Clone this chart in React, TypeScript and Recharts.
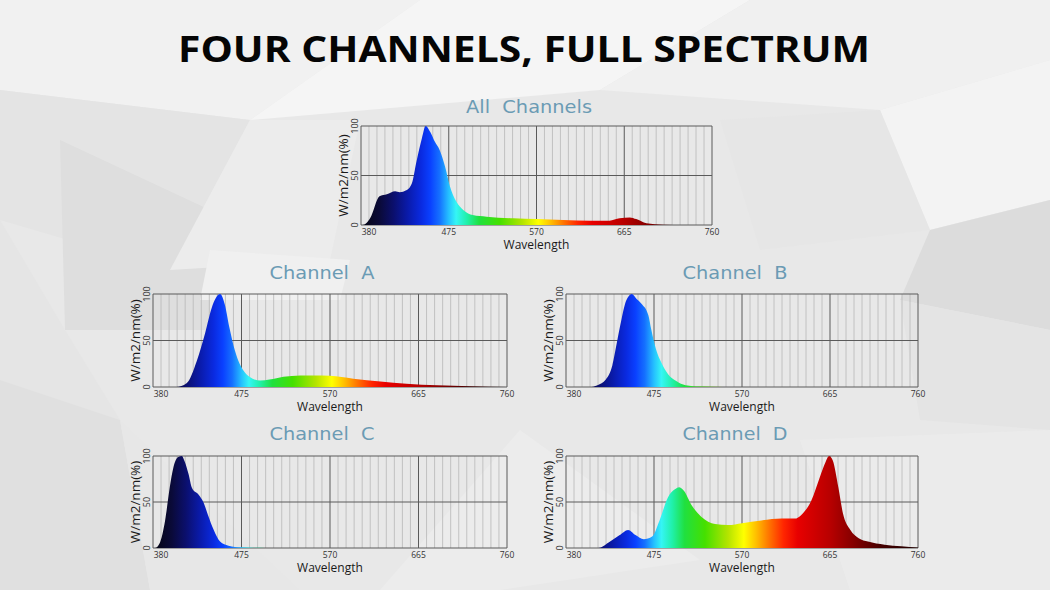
import React from 'react';
import { AreaChart, Area, XAxis, YAxis, CartesianGrid } from 'recharts';

// ---------- data ----------
const X_TICKS = [380, 475, 570, 665, 760];
const Y_TICKS = [0, 50, 100];
const MINOR_STEP = 95 / 11;
const MINOR_TICKS: number[] = Array.from({ length: 45 }, (_, i) => 380 + i * MINOR_STEP).filter(
  (v) => !X_TICKS.some((t) => Math.abs(t - v) < 0.5)
);

const ALL_WL = [380, 382, 390, 400, 408, 417, 422, 429, 435, 440, 446, 450, 455, 460, 465, 471, 476, 483, 491, 501, 516, 545, 570, 599, 628, 649, 660, 671, 678, 689, 707, 730, 760];
const ALL_VAL = [0, 0, 7, 29, 31, 34, 33, 35, 42, 64, 88, 100, 94, 84, 76, 59, 40, 24, 15, 10, 8.4, 6.7, 6, 5, 4.4, 4.4, 6.7, 7.7, 6, 1.7, 0.3, 0, 0];

const A_WL = [380, 405, 416, 427, 436, 443, 452, 457, 462, 468, 473, 480, 487, 495, 505, 520, 538, 552, 570, 595, 624, 652, 685, 720, 760];
const A_VAL = [0, 0, 4, 28, 58, 85, 100, 89, 64, 39, 25, 14, 9, 7, 8, 11, 12.5, 12.5, 12, 9, 6, 3.6, 1.8, 0.7, 0];

const B_WL = [380, 405, 414, 423, 430, 435, 440, 445, 451, 456, 462, 469, 472, 477, 483, 490, 499, 509, 525, 550, 760];
const B_VAL = [0, 0, 2, 8, 23, 48, 73, 93, 100, 95, 89, 77, 62, 41, 26, 14, 6.5, 2, 0.5, 0, 0];

const C_WL = [380, 382, 387, 393, 398, 402, 407, 411, 414, 418, 422, 429, 434, 439, 445, 452, 461, 475, 500, 760];
const C_VAL = [0, 0, 5, 30, 66, 88, 99, 100, 94, 81, 65, 58, 50, 36, 20, 7, 2.5, 0.7, 0, 0];

const D_WL = [380, 415, 426, 438, 447, 455, 464, 473, 481, 490, 498, 502, 507, 516, 526, 541, 555, 570, 591, 613, 627, 634, 645, 654, 660, 664, 668, 674, 679, 687, 696, 706, 724, 742, 760];
const D_VAL = [0, 0, 6, 14, 19.6, 14, 9.6, 12.5, 30, 55, 64, 66, 62.5, 46, 34, 26, 25, 27, 30, 32, 32, 36, 52, 77, 93, 100, 95, 66, 37.5, 19.6, 10.7, 7, 3.5, 1.8, 0.5];

// wavelength -> colour stops for the spectrum fill
const SPECTRUM_WL = [380, 400, 415, 430, 445, 455, 465, 475, 483, 495, 508, 530, 555, 572, 585, 600, 615, 630, 665, 690, 720, 760];
const SPECTRUM_COL = ['#05050f', '#0a0a38', '#0b0f6c', '#0a1aa8', '#0a2ae0', '#0a40ff', '#1570ff', '#25c0ff', '#35f5f5', '#20f0a8', '#20e040', '#45e000', '#b5e400', '#ffff00', '#ffc000', '#ff7000', '#ff2500', '#e80000', '#b80000', '#850000', '#450000', '#200000'];

const build = (wl: number[], val: number[]) => wl.map((w, i) => ({ wl: w, v: val[i] }));

// ---------- pieces ----------
const FONT = '"Open Sans", "Noto Sans", sans-serif';

const XTick = (props: any) => {
  const { x, y, payload } = props;
  const dx = payload.value === 380 ? 8 : 0;
  return (
    <text x={x + dx} y={y + 10} textAnchor="middle" fontSize={8.5} fill="#333" fontFamily={FONT}>
      {payload.value}
    </text>
  );
};

const YTick = (props: any) => {
  const { x, y, payload } = props;
  const bx = x - 3;
  return (
    <text x={bx} y={y} transform={`rotate(-90 ${bx} ${y})`} textAnchor="middle" fontSize={9} fill="#333" fontFamily={FONT}>
      {payload.value}
    </text>
  );
};

type SpecProps = { id: string; L: number; T: number; W: number; H: number; data: { wl: number; v: number }[] };

const Y_W = 36, M_TOP = 10, M_RIGHT = 14, X_H = 26, M_BOTTOM = 2;

const SpectrumChart = ({ id, L, T, W, H, data }: SpecProps) => {
  const gid = `spec-${id}`;
  return (
    <div style={{ position: 'absolute', left: L - Y_W, top: T - M_TOP }}>
      <AreaChart
        width={W + Y_W + M_RIGHT}
        height={H + M_TOP + X_H + M_BOTTOM}
        data={data}
        margin={{ top: M_TOP, right: M_RIGHT, left: 0, bottom: M_BOTTOM }}
      >
        <defs>
          <linearGradient id={gid} x1="0" y1="0" x2="1" y2="0">
            {SPECTRUM_WL.map((w, i) => (
              <stop key={w} offset={(w - 380) / 380} stopColor={SPECTRUM_COL[i]} />
            ))}
          </linearGradient>
        </defs>
        <CartesianGrid horizontal={false} verticalValues={MINOR_TICKS} stroke="#b8b8b8" strokeWidth={0.8} />
        <CartesianGrid stroke="#5a5a5a" strokeWidth={1} />
        <XAxis
          type="number"
          dataKey="wl"
          domain={[380, 760]}
          ticks={X_TICKS}
          interval={0}
          allowDataOverflow
          axisLine={false}
          tickLine={false}
          tickSize={0}
          tickMargin={0}
          height={X_H}
          tick={<XTick />}
          label={{ value: 'Wavelength', position: 'insideBottom', offset: 2, fontSize: 12, fill: '#1a1a1a', fontFamily: FONT }}
        />
        <YAxis
          type="number"
          domain={[0, 100]}
          ticks={Y_TICKS}
          interval={0}
          allowDataOverflow
          axisLine={false}
          tickLine={false}
          tickSize={0}
          tickMargin={0}
          width={Y_W}
          tick={<YTick />}
          label={{ value: 'W/m2/nm(%)', angle: -90, position: 'center', fontSize: 13.5, fill: '#1a1a1a', fontFamily: FONT }}
        />
        <Area
          type="monotone"
          dataKey="v"
          stroke="none"
          fill={`url(#${gid})`}
          fillOpacity={1}
          isAnimationActive={false}
          dot={false}
          activeDot={false}
        />
      </AreaChart>
    </div>
  );
};

const BG_POLYS: [string, string][] = [
  ['0,0 420,0 250,120 0,90', '#f1f1f1'],
  ['420,0 750,0 600,90 250,120', '#f5f5f5'],
  ['750,0 1050,0 1050,60 880,110 600,90', '#f0f0f0'],
  ['0,90 250,120 170,270 0,220', '#e4e4e4'],
  ['60,140 210,210 210,330 65,330', '#dedede'],
  ['250,120 360,120 330,260 170,270', '#ececec'],
  ['210,250 350,260 340,300 200,300', '#f0f0f0'],
  ['0,220 65,330 120,420 0,380', '#e5e5e5'],
  ['880,110 1050,60 1050,200 930,230', '#f3f3f3'],
  ['930,230 1050,200 1050,330 900,300', '#dcdcdc'],
  ['900,300 1050,330 1050,430 920,420', '#e4e4e4'],
  ['0,380 120,420 150,590 0,590', '#e0e0e0'],
  ['520,430 700,560 500,590 380,590', '#ececec'],
  ['800,440 1050,430 1050,590 850,590', '#ebebeb'],
  ['720,120 880,110 930,230 760,250', '#e6e6e6'],
  ['120,420 300,590 150,590', '#e7e7e7'],
];

const SUBTITLES: [string, number, number, number][] = [
  ['All  Channels', 529, 113, 126],
  ['Channel  A', 322, 279, 105],
  ['Channel  B', 735, 279, 105],
  ['Channel  C', 322, 440, 105],
  ['Channel  D', 735, 440, 105],
];

export default function App() {
  return (
    <div style={{ position: 'absolute', left: 0, top: 0, width: 1050, height: 590, overflow: 'hidden', background: '#e8e8e8' }}>
      <svg width={1050} height={590} style={{ position: 'absolute', left: 0, top: 0 }}>
        <rect x={0} y={0} width={1050} height={590} fill="#e8e8e8" />
        {BG_POLYS.map(([p, c], i) => (
          <polygon key={i} points={p} fill={c} />
        ))}
        <text
          x={178}
          y={62}
          textLength={692}
          lengthAdjust="spacingAndGlyphs"
          fontSize={35}
          fontWeight={700}
          fontFamily={FONT}
          fill="#050505"
        >
          FOUR CHANNELS, FULL SPECTRUM
        </text>
        {SUBTITLES.map(([t, cx, by, w]) => (
          <text
            key={t}
            x={cx - w / 2}
            y={by}
            textLength={w}
            lengthAdjust="spacingAndGlyphs"
            fontSize={17}
            fontWeight={400}
            fontFamily='"DejaVu Sans", Lato, sans-serif'
            fill="#6b9bb4"
            style={{ whiteSpace: 'pre' }}
          >
            {t}
          </text>
        ))}
      </svg>
      <SpectrumChart id="all" L={361} T={126} W={351} H={99} data={build(ALL_WL, ALL_VAL)} />
      <SpectrumChart id="a" L={153} T={294} W={354} H={93} data={build(A_WL, A_VAL)} />
      <SpectrumChart id="b" L={566} T={294} W={352} H={93} data={build(B_WL, B_VAL)} />
      <SpectrumChart id="c" L={153} T={456} W={354} H={92} data={build(C_WL, C_VAL)} />
      <SpectrumChart id="d" L={566} T={456} W={352} H={92} data={build(D_WL, D_VAL)} />
    </div>
  );
}
